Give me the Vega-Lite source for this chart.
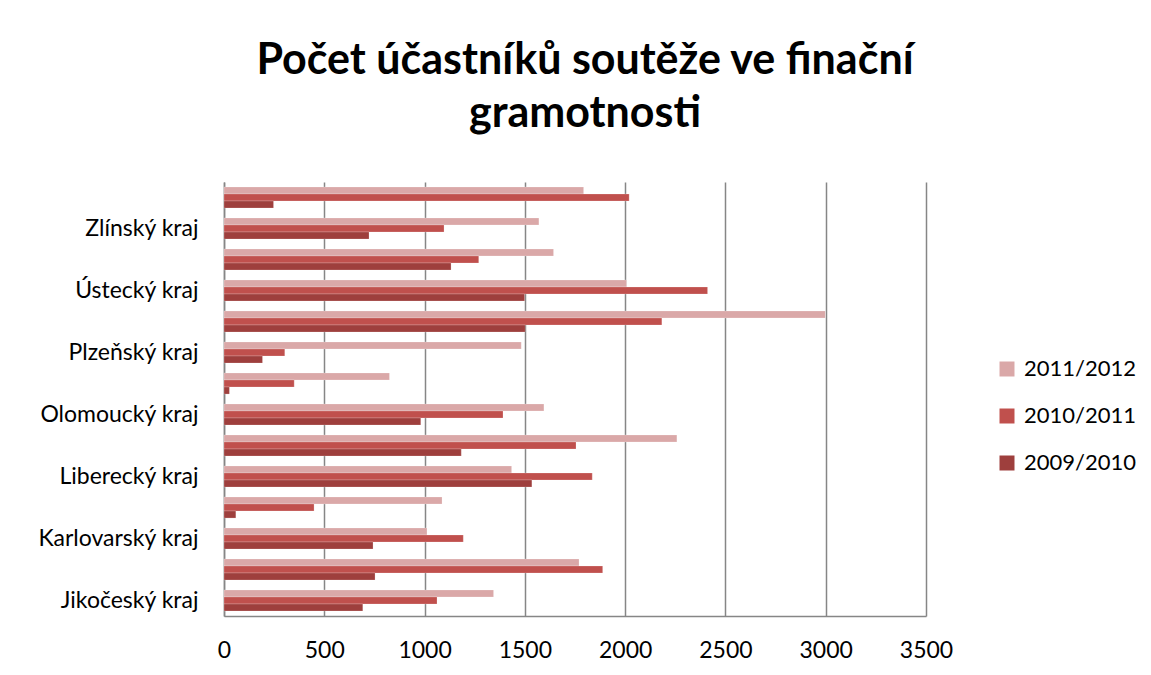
{
  "$schema": "https://vega.github.io/schema/vega-lite/v6.json",
  "width": 702,
  "height": 434,
  "autosize": "none",
  "padding": {"left": 224, "top": 182, "right": 225, "bottom": 59},
  "background": "white",
  "title": {
    "text": ["Počet účastníků soutěže ve finační", "gramotnosti"],
    "font": "Lato",
    "fontSize": 43,
    "fontWeight": "bold",
    "color": "#000000",
    "lineHeight": 53,
    "anchor": "middle",
    "offset": 46,
    "dx": 10
  },
  "data": {
    "values": [
      {"kraj": "Jikočeský kraj", "rok": "2011/2012", "pocet": 1344},
      {"kraj": "Jikočeský kraj", "rok": "2010/2011", "pocet": 1062},
      {"kraj": "Jikočeský kraj", "rok": "2009/2010", "pocet": 692},
      {"kraj": "Jihomoravský kraj", "rok": "2011/2012", "pocet": 1770},
      {"kraj": "Jihomoravský kraj", "rok": "2010/2011", "pocet": 1888},
      {"kraj": "Jihomoravský kraj", "rok": "2009/2010", "pocet": 753},
      {"kraj": "Karlovarský kraj", "rok": "2011/2012", "pocet": 1012},
      {"kraj": "Karlovarský kraj", "rok": "2010/2011", "pocet": 1193},
      {"kraj": "Karlovarský kraj", "rok": "2009/2010", "pocet": 743},
      {"kraj": "Královéhradecký kraj", "rok": "2011/2012", "pocet": 1087},
      {"kraj": "Královéhradecký kraj", "rok": "2010/2011", "pocet": 449},
      {"kraj": "Královéhradecký kraj", "rok": "2009/2010", "pocet": 59},
      {"kraj": "Liberecký kraj", "rok": "2011/2012", "pocet": 1434},
      {"kraj": "Liberecký kraj", "rok": "2010/2011", "pocet": 1836},
      {"kraj": "Liberecký kraj", "rok": "2009/2010", "pocet": 1535},
      {"kraj": "Moravskoslezský kraj", "rok": "2011/2012", "pocet": 2258},
      {"kraj": "Moravskoslezský kraj", "rok": "2010/2011", "pocet": 1755},
      {"kraj": "Moravskoslezský kraj", "rok": "2009/2010", "pocet": 1183},
      {"kraj": "Olomoucký kraj", "rok": "2011/2012", "pocet": 1595},
      {"kraj": "Olomoucký kraj", "rok": "2010/2011", "pocet": 1391},
      {"kraj": "Olomoucký kraj", "rok": "2009/2010", "pocet": 981},
      {"kraj": "Pardubický kraj", "rok": "2011/2012", "pocet": 825},
      {"kraj": "Pardubický kraj", "rok": "2010/2011", "pocet": 350},
      {"kraj": "Pardubický kraj", "rok": "2009/2010", "pocet": 27},
      {"kraj": "Plzeňský kraj", "rok": "2011/2012", "pocet": 1482},
      {"kraj": "Plzeňský kraj", "rok": "2010/2011", "pocet": 303},
      {"kraj": "Plzeňský kraj", "rok": "2009/2010", "pocet": 192},
      {"kraj": "Praha", "rok": "2011/2012", "pocet": 2998},
      {"kraj": "Praha", "rok": "2010/2011", "pocet": 2183},
      {"kraj": "Praha", "rok": "2009/2010", "pocet": 1502},
      {"kraj": "Ústecký kraj", "rok": "2011/2012", "pocet": 2007},
      {"kraj": "Ústecký kraj", "rok": "2010/2011", "pocet": 2411},
      {"kraj": "Ústecký kraj", "rok": "2009/2010", "pocet": 1499},
      {"kraj": "Vysočina", "rok": "2011/2012", "pocet": 1643},
      {"kraj": "Vysočina", "rok": "2010/2011", "pocet": 1270},
      {"kraj": "Vysočina", "rok": "2009/2010", "pocet": 1132},
      {"kraj": "Zlínský kraj", "rok": "2011/2012", "pocet": 1570},
      {"kraj": "Zlínský kraj", "rok": "2010/2011", "pocet": 1097},
      {"kraj": "Zlínský kraj", "rok": "2009/2010", "pocet": 723},
      {"kraj": "Středočeský kraj", "rok": "2011/2012", "pocet": 1793},
      {"kraj": "Středočeský kraj", "rok": "2010/2011", "pocet": 2020},
      {"kraj": "Středočeský kraj", "rok": "2009/2010", "pocet": 247}
    ]
  },
  "mark": {"type": "bar", "stroke": "#ffffff", "strokeOpacity": 0.35, "strokeWidth": 0.6},
  "encoding": {
    "y": {
      "field": "kraj",
      "type": "nominal",
      "sort": ["Středočeský kraj", "Zlínský kraj", "Vysočina", "Ústecký kraj", "Praha", "Plzeňský kraj", "Pardubický kraj", "Olomoucký kraj", "Moravskoslezský kraj", "Liberecký kraj", "Královéhradecký kraj", "Karlovarský kraj", "Jihomoravský kraj", "Jikočeský kraj"],
      "scale": {"paddingInner": 0.32, "paddingOuter": 0.16},
      "axis": {
        "title": null,
        "values": ["Zlínský kraj", "Ústecký kraj", "Plzeňský kraj", "Olomoucký kraj", "Liberecký kraj", "Karlovarský kraj", "Jikočeský kraj"],
        "ticks": false,
        "domain": true,
        "domainColor": "#868686",
        "domainWidth": 1.5,
        "labelFont": "Lato",
        "labelFontSize": 23,
        "labelColor": "#000000",
        "labelPadding": 26
      }
    },
    "yOffset": {
      "field": "rok",
      "type": "nominal",
      "sort": ["2011/2012", "2010/2011", "2009/2010"],
      "scale": {"paddingInner": 0, "paddingOuter": 0}
    },
    "x": {
      "field": "pocet",
      "type": "quantitative",
      "scale": {"domain": [0, 3500], "nice": false},
      "axis": {
        "title": null,
        "values": [0, 500, 1000, 1500, 2000, 2500, 3000, 3500],
        "format": "d",
        "labelFlush": false,
        "labelBound": false,
        "labelOverlap": false,
        "grid": true,
        "gridColor": "#868686",
        "gridWidth": 1.5,
        "ticks": false,
        "domain": true,
        "domainColor": "#868686",
        "domainWidth": 1.5,
        "labelFont": "Lato",
        "labelFontSize": 23,
        "labelColor": "#000000",
        "labelPadding": 23
      }
    },
    "color": {
      "field": "rok",
      "type": "nominal",
      "scale": {"domain": ["2011/2012", "2010/2011", "2009/2010"], "range": ["#DAA8A8", "#C0504D", "#9E3F3D"]},
      "legend": {
        "title": null,
        "orient": "none",
        "legendX": 772,
        "legendY": 176,
        "symbolType": "square",
        "symbolSize": 225,
        "symbolStrokeWidth": 0,
        "symbolOpacity": 1,
        "labelFont": "Lato",
        "labelFontSize": 22,
        "labelColor": "#000000",
        "labelOffset": 6,
        "rowPadding": 25
      }
    }
  },
  "config": {
    "view": {"stroke": null}
  }
}
